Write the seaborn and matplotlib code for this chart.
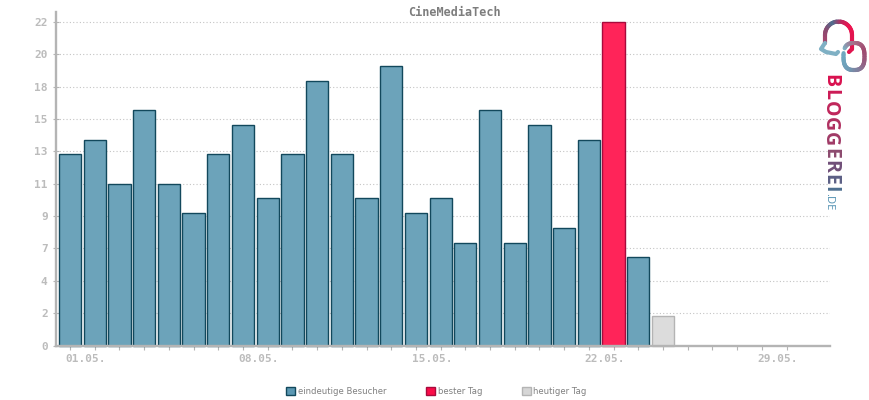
import matplotlib
matplotlib.use("Agg")
import matplotlib.pyplot as plt
import numpy as np
import pandas as pd
import seaborn as sns
from matplotlib.patches import Patch
from matplotlib.collections import LineCollection
from matplotlib.colors import LinearSegmentedColormap
from matplotlib.transforms import ScaledTranslation

days = list(range(1, 26))
visitors = [13, 14, 11, 16, 11, 9, 13, 15, 10, 13, 18, 13, 10, 19, 9, 10, 7, 16, 7, 15, 8, 14, 22, 6, 2]
kinds = ["eindeutige Besucher"] * 22 + ["bester Tag"] + ["eindeutige Besucher"] + ["heutiger Tag"]
y_ticks = [0, 2.2, 4.4, 6.6, 8.8, 11, 13.2, 15.4, 17.6, 19.8, 22]
y_labels = ["0", "2", "4", "7", "9", "11", "13", "15", "18", "20", "22"]
x_ticks = list(range(1, 31))
x_labels = {1: "01.05.", 8: "08.05.", 15: "15.05.", 22: "22.05.", 29: "29.05."}
title = "CineMediaTech"
fills = {"eindeutige Besucher": "#6ca3ba", "bester Tag": "#ff2459", "heutiger Tag": "#dcdcdc"}
edges = {"eindeutige Besucher": "#12485c", "bester Tag": "#a80a3c", "heutiger Tag": "#b4b4b4"}
legend_fills = {"eindeutige Besucher": "#5b98b3", "bester Tag": "#fa0c48", "heutiger Tag": "#d6d6d6"}
logo_word = "BLOGGEREI"
logo_colors = ["#d9114f", "#cc1a55", "#c0265b", "#b03060", "#a03a66", "#8c4a6e", "#704f78", "#5c5f85", "#4d6f90"]
logo_steps = [15, 12, 16, 15.5, 15.5, 12, 13.5, 12, 5]

sns.set_theme(style="white")
plt.rcParams["font.family"] = ["DejaVu Sans Mono"]
GREY = "#b4b4b4"

W, H = 870, 400
fig = plt.figure(figsize=(W / 100, H / 100), dpi=100, facecolor="white")
ax = fig.add_axes([56 / W, (H - 345.5) / H, (830.5 - 56) / W, (345.5 - 12) / H])

df = pd.DataFrame({"day": days, "visitors": visitors, "kind": kinds})
sns.barplot(data=df, x="day", y="visitors", hue="kind", palette=fills, dodge=False, saturation=1,
            native_scale=True, width=0.9, legend=False, ax=ax, zorder=2)
for kind, cont in zip(df["kind"].unique(), ax.containers):
    for bar in cont:
        bar.set_edgecolor(edges[kind])
        bar.set_linewidth(1.0)
        bar.set_clip_on(False)

ax.set_xlim(0.43, 31.78)
ax.set_ylim(0, 22.68)
ax.set_xlabel("")
ax.set_ylabel("")
ax.set_yticks(y_ticks, y_labels)
ax.set_xticks(x_ticks, [x_labels.get(d, "") for d in x_ticks])
ax.tick_params(axis="y", direction="inout", length=4, width=0.8, color=GREY, labelcolor="#bcbcbc",
               labelsize=8, pad=4, left=True)
ax.tick_params(axis="x", direction="out", length=3, width=0.8, color=GREY, labelcolor="#bcbcbc",
               labelsize=8, pad=3, bottom=True)
for lab in ax.get_xticklabels() + ax.get_yticklabels():
    lab.set_fontweight("bold")
for lab in ax.get_xticklabels():
    lab.set_transform(lab.get_transform() + ScaledTranslation(16 / 100, 0, fig.dpi_scale_trans))
ax.yaxis.grid(True, linestyle=(0, (1, 2)), linewidth=0.8, color="#c4c4c4", zorder=0)
ax.set_axisbelow(True)
ax.spines["top"].set_visible(False)
ax.spines["right"].set_visible(False)
for s in ("left", "bottom"):
    ax.spines[s].set_color(GREY)
    ax.spines[s].set_linewidth(1.7)
    ax.spines[s].set_zorder(5)

fig.text(454.5 / W, 1 - 12 / H, title, ha="center", va="center", fontsize=8.5, fontweight="bold", color="#7d7d7d")

handles = [Patch(facecolor=legend_fills[k], edgecolor=edges[k], linewidth=1, label=k) for k in fills]
fig.legend(handles=handles, loc="center", bbox_to_anchor=(436.5 / W, 1 - 391.5 / H), ncol=3, frameon=False,
           prop={"family": "DejaVu Sans", "size": 6.1}, labelcolor="#808080",
           handlelength=1.05, handleheight=1.05, handletextpad=0.3, columnspacing=4.7,
           borderpad=0, borderaxespad=0)

# logo: linked speech bubbles and vertical word mark
logo = fig.add_axes([0, 0, 1, 1], facecolor="none")
logo.set_xlim(0, W)
logo.set_ylim(H, 0)
logo.axis("off")


def gradient_line(xs, ys, colors, lw=3.0):
    pts = np.c_[xs, ys]
    segs = np.stack([pts[:-1], pts[1:]], axis=1)
    lc = LineCollection(segs, cmap=LinearSegmentedColormap.from_list("g", colors), linewidth=lw, capstyle="round")
    lc.set_array(np.linspace(0, 1, len(segs)))
    logo.add_collection(lc)


t = np.linspace(np.pi, 2 * np.pi, 30)
gradient_line(np.r_[825, 825, 838.5 + 13.5 * np.cos(t), 852, 849],
              np.r_[43, 35, 35 + 13.5 * np.sin(t), 49, 52],
              ["#a0476e", "#8a4a70", "#4d6f90", "#c0265b", "#f0134f", "#e0144f"])
logo.plot([825, 821, 826, 836, 838], [43, 49, 52, 54, 52], color="#7fb0c4", lw=3, solid_capstyle="round")
a = np.linspace(-2.6, 3.3, 60)
gradient_line(854 + 10.5 * np.sign(np.cos(a)) * np.abs(np.cos(a)) ** 0.75,
              56.5 + 13.5 * np.sign(np.sin(a)) * np.abs(np.sin(a)) ** 0.75,
              ["#7fb0c4", "#a86a86", "#a04a70", "#8f6a8c", "#6f9ab4", "#6fa8c0"])
y = 74
for ch, c, dy in zip(logo_word, logo_colors, logo_steps):
    logo.text(830, y, ch, rotation=270, ha="center", va="top", fontsize=14, fontweight="bold",
              family="Open Sans", color=c)
    y += dy
logo.text(829, 193, ".DE", rotation=270, ha="center", va="top", fontsize=8, family="Open Sans", color="#4f8fb0")

fig.savefig("out.png", dpi=100)
